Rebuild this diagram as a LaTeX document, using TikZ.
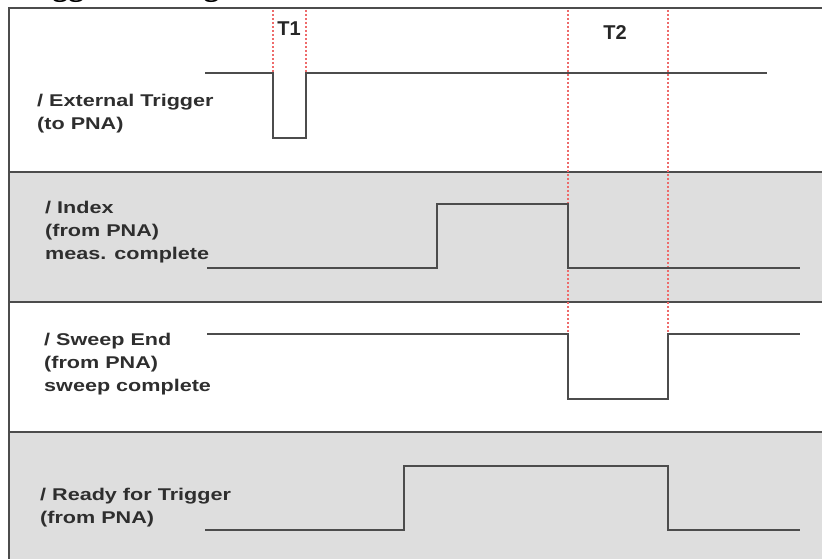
\documentclass[tikz,border=0pt]{standalone}
\usepackage{fontspec}
\setmainfont{Liberation Serif}
\newfontfamily\lblfont[FakeStretch=1.27]{Liberation Sans}
\newfontfamily\markfont{Liberation Sans}

\definecolor{bandgray}{HTML}{DEDEDE}
\definecolor{linegray}{HTML}{4C4C4C}
\definecolor{markred}{HTML}{EE6B6B}

\tikzset{
  frameline/.style={draw=linegray, line width=2.2pt},
  signal/.style={draw=linegray, line width=1.6pt},
  timemark/.style={draw=markred, line width=2pt, dash pattern=on 2pt off 2pt},
  siglabel/.style={anchor=north west, inner sep=0pt, align=left, text=black!82,
    font=\lblfont\bfseries\fontsize{17}{23}\selectfont},
  marklabel/.style={inner sep=0pt, text=black!85, font=\markfont\bfseries\fontsize{20}{24}\selectfont},
}

\begin{document}
\begin{tikzpicture}[x=1pt,y=-1pt]
\useasboundingbox (0,0) rectangle (822,559);

\node[anchor=base west, inner sep=0pt, font=\bfseries\fontsize{32}{38}\selectfont] (title) at (10,-4) {Trigger Timing};

\fill[bandgray] (9,172) rectangle (830,302);
\fill[bandgray] (9,432) rectangle (830,570);
\draw[frameline] (830,8) -- (9,8) -- (9,570);
\draw[frameline] (9,172) -- (830,172);
\draw[frameline] (9,302) -- (830,302);
\draw[frameline] (9,432) -- (830,432);

\draw[timemark] (273,10) -- (273,72);
\draw[timemark] (306,10) -- (306,72);
\draw[timemark] (568,10) -- (568,333);
\draw[timemark] (668,10) -- (668,333);

\node[marklabel] (t1lbl) at (289,29) {T1};
\node[marklabel] (t2lbl) at (615,33) {T2};

\draw[signal] (205,73) -- (273,73) -- (273,138) -- (306,138) -- (306,73) -- (767,73);
\draw[signal] (207,268) -- (437,268) -- (437,204) -- (568,204) -- (568,268) -- (800,268);
\draw[signal] (207,334) -- (568,334) -- (568,399) -- (668,399) -- (668,334) -- (800,334);
\draw[signal] (205,530) -- (404,530) -- (404,466) -- (668,466) -- (668,530) -- (800,530);

\node[siglabel] (extlbl) at (37,93.5) {/ External Trigger\\(to PNA)};
\node[siglabel] (idxlbl) at (45,200.5) {/ Index\\(from PNA)\\meas. complete};
\node[siglabel] (swplbl) at (44,332.5) {/ Sweep End\\(from PNA)\\sweep complete};
\node[siglabel] (rdylbl) at (40,487.5) {/ Ready for Trigger\\(from PNA)};
\end{tikzpicture}
\end{document}
